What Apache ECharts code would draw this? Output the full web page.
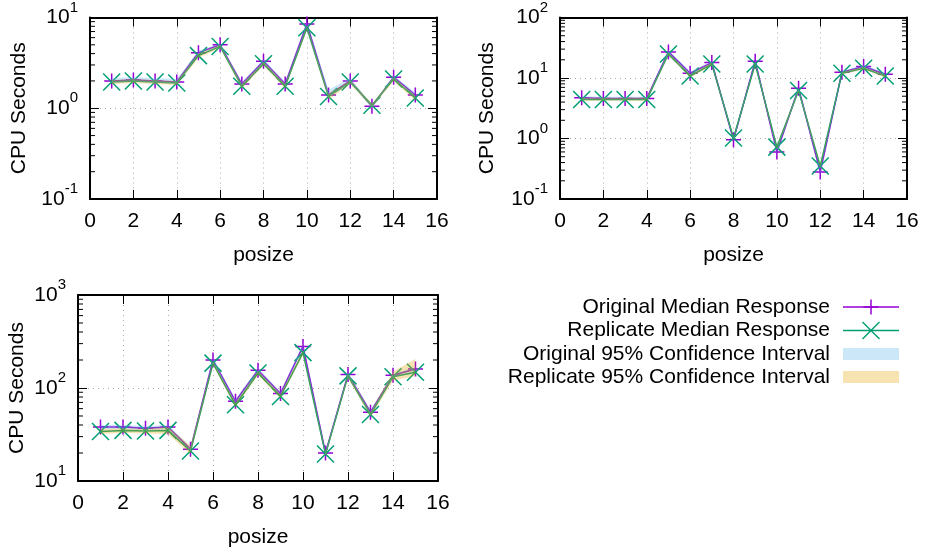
<!DOCTYPE html>
<html>
<head>
<meta charset="utf-8">
<script src="https://cdn.jsdelivr.net/npm/echarts@6/dist/echarts.min.js"></script>
<style>
  html, body { margin: 0; padding: 0; background: #fff; }
  #chart { width: 927px; height: 555px; }
</style>
</head>
<body>
<div id="chart"></div>
<script>
// posize values on the x axis
var posize = [1, 2, 3, 4, 5, 6, 7, 8, 9, 10, 11, 12, 13, 14, 15];
var xTicks = [0, 2, 4, 6, 8, 10, 12, 14, 16];

// panel 1 (top left)
var p1Orig   = [2.0, 2.05, 2.0, 1.95, 4.1, 5.0, 1.85, 3.3, 1.85, 8.5, 1.4, 2.0, 1.05, 2.2, 1.4];
var p1Rep    = [1.95, 2.0, 1.95, 1.9, 3.8, 4.8, 1.75, 3.1, 1.75, 7.7, 1.35, 1.95, 1.08, 2.1, 1.3];
var p1OrigLo = [1.9, 1.95, 1.9, 1.85, 3.9, 4.8, 1.75, 3.1, 1.75, 8.0, 1.3, 1.9, 1.0, 2.1, 1.3];
var p1OrigHi = [2.15, 2.2, 2.15, 2.1, 4.3, 5.2, 1.95, 3.5, 1.95, 9.0, 1.6, 2.15, 1.1, 2.3, 1.5];
var p1RepLo  = [1.85, 1.9, 1.85, 1.8, 3.6, 4.6, 1.65, 2.95, 1.65, 7.3, 1.25, 1.85, 1.02, 2.0, 1.22];
var p1RepHi  = [2.05, 2.1, 2.05, 2.0, 4.0, 5.0, 1.85, 3.25, 1.85, 8.1, 1.45, 2.05, 1.13, 2.2, 1.38];

// panel 2 (top right)
var p2Orig   = [4.7, 4.6, 4.6, 4.6, 27, 12, 18, 0.95, 19, 0.6, 6.8, 0.28, 12.5, 15.5, 11.5];
var p2Rep    = [4.4, 4.4, 4.4, 4.4, 25, 10.8, 17, 1.02, 17, 0.72, 6.2, 0.35, 12, 14.5, 10.8];
var p2OrigLo = [4.4, 4.4, 4.4, 4.4, 25, 11.2, 17, 0.9, 18, 0.55, 6.3, 0.25, 12, 14.5, 10.8];
var p2OrigHi = [5.0, 4.9, 4.9, 4.9, 29, 12.8, 19, 1.0, 20, 0.66, 7.2, 0.31, 13, 16.5, 12.2];
var p2RepLo  = [4.2, 4.2, 4.2, 4.2, 23.5, 10.2, 16, 0.96, 16, 0.66, 5.8, 0.32, 11.4, 13.8, 10.2];
var p2RepHi  = [4.7, 4.7, 4.7, 4.7, 26.5, 11.5, 18, 1.08, 18, 0.78, 6.6, 0.39, 12.6, 15.3, 11.4];

// panel 3 (bottom left)
var p3Orig   = [38, 38, 37, 38, 22, 200, 72, 155, 87, 280, 20, 140, 55, 137, 160];
var p3Rep    = [34, 35, 34.5, 35, 21, 185, 66, 145, 81, 240, 19.5, 135, 52, 132, 148];
var p3OrigLo = [36, 36, 35, 36, 21, 190, 68, 147, 83, 265, 19, 133, 52, 130, 152];
var p3OrigHi = [40, 40, 39, 40, 23.5, 210, 76, 163, 91, 295, 21, 147, 58, 144, 168];
var p3RepLo  = [32, 33, 32.5, 32, 19.5, 175, 62, 137, 77, 225, 18.5, 127, 49, 120, 135];
var p3RepHi  = [36.5, 37, 36.5, 38, 24, 195, 70, 153, 86, 255, 20.5, 143, 55, 150, 205];

var panels = [
  { orig: p1Orig, rep: p1Rep, origLo: p1OrigLo, origHi: p1OrigHi, repLo: p1RepLo, repHi: p1RepHi, min: 0.1, max: 10 },
  { orig: p2Orig, rep: p2Rep, origLo: p2OrigLo, origHi: p2OrigHi, repLo: p2RepLo, repHi: p2RepHi, min: 0.1, max: 100 },
  { orig: p3Orig, rep: p3Rep, origLo: p3OrigLo, origHi: p3OrigHi, repLo: p3RepLo, repHi: p3RepHi, min: 10, max: 1000 }
];

var FONT = '"Liberation Sans", Arial, Helvetica, sans-serif';
var FS = 21;
var C_ORIG = '#9400d3';
var C_REP = '#009e73';
var C_ORIG_CI = 'rgba(86,180,233,0.3)';
var C_REP_CI = 'rgba(230,159,0,0.3)';
var PLUS = 'path://M0,-1L0,1M-1,0L1,0';
var CROSS = 'path://M-1,-1L1,1M-1,1L1,-1';

var grids = [
  { left: 90, top: 14, width: 347, height: 185 },
  { left: 560, top: 14, width: 347, height: 185 },
  { left: 78, top: 295, width: 360, height: 186 }
];
var yNameGap = [60, 62, 50];

function zip(ys) {
  return posize.map(function (x, i) { return [x, ys[i]]; });
}

function logLabel(v) {
  var e = Math.round(Math.log10(v));
  return '{b|10}{s|' + e + '}';
}

function bandSeries(g, lo, hi, color) {
  return {
    type: 'custom',
    xAxisIndex: 2 * g,
    yAxisIndex: 2 * g,
    silent: true,
    z: 5,
    data: posize.map(function (x, i) { return [x, lo[i], hi[i]]; }),
    encode: { x: 0, y: [1, 2] },
    renderItem: function (params, api) {
      if (params.dataIndex !== 0) return null;
      var pts = [];
      for (var i = 0; i < posize.length; i++) pts.push(api.coord([posize[i], lo[i]]));
      for (var j = posize.length - 1; j >= 0; j--) pts.push(api.coord([posize[j], hi[j]]));
      return { type: 'polygon', shape: { points: pts }, style: { fill: color } };
    }
  };
}

var xAxes = [], yAxes = [], series = [];
panels.forEach(function (p, g) {
  var common = { min: xTicks[0], max: xTicks[xTicks.length - 1], interval: 2, gridIndex: g, type: 'value' };
  xAxes.push(Object.assign({}, common, {
    position: 'bottom',
    name: 'posize', nameLocation: 'middle', nameGap: 46,
    nameTextStyle: { fontFamily: FONT, fontSize: FS, color: '#000' },
    axisLine: { show: true, onZero: false, lineStyle: { color: '#000', width: 2 } },
    axisTick: { show: true, inside: true, length: 9, lineStyle: { color: '#000', width: 1 } },
    axisLabel: { show: true, margin: 12, fontFamily: FONT, fontSize: FS, color: '#000' },
    splitLine: { show: true, lineStyle: { color: '#aaa', width: 1, type: [1, 4] } }
  }));
  xAxes.push(Object.assign({}, common, {
    position: 'top',
    axisLine: { show: true, onZero: false, lineStyle: { color: '#000', width: 2 } },
    axisTick: { show: true, inside: true, length: 9, lineStyle: { color: '#000', width: 1 } },
    axisLabel: { show: false },
    splitLine: { show: false }
  }));
  var yCommon = { type: 'log', logBase: 10, min: p.min, max: p.max, gridIndex: g };
  yAxes.push(Object.assign({}, yCommon, {
    position: 'left',
    name: 'CPU Seconds', nameLocation: 'middle', nameGap: yNameGap[g],
    nameTextStyle: { fontFamily: FONT, fontSize: FS, color: '#000' },
    axisLine: { show: true, onZero: false, lineStyle: { color: '#000', width: 2 } },
    axisTick: { show: true, inside: true, length: 9, lineStyle: { color: '#000', width: 1 } },
    axisLabel: {
      show: true, margin: 12, formatter: logLabel, padding: [0, 0, 7, 0],
      rich: {
        b: { fontFamily: FONT, fontSize: FS, color: '#000', padding: [7, 0, 0, 0] },
        s: { fontFamily: FONT, fontSize: 15, color: '#000', verticalAlign: 'top' }
      }
    },
    splitLine: { show: true, lineStyle: { color: '#aaa', width: 1, type: [1, 4] } }
  }));
  yAxes.push(Object.assign({}, yCommon, {
    position: 'right',
    axisLine: { show: true, onZero: false, lineStyle: { color: '#000', width: 2 } },
    axisTick: { show: true, inside: true, length: 9, lineStyle: { color: '#000', width: 1 } },
    axisLabel: { show: false },
    splitLine: { show: false }
  }));

  series.push({
    name: 'Original Median Response', type: 'line',
    xAxisIndex: 2 * g, yAxisIndex: 2 * g, data: zip(p.orig),
    symbol: PLUS, symbolSize: 15, showAllSymbol: true,
    lineStyle: { color: C_ORIG, width: 1.5 },
    itemStyle: { color: 'rgba(0,0,0,0)', borderColor: C_ORIG, borderWidth: 1.5 },
    z: 3, animation: false
  });
  series.push({
    name: 'Replicate Median Response', type: 'line',
    xAxisIndex: 2 * g, yAxisIndex: 2 * g, data: zip(p.rep),
    symbol: CROSS, symbolSize: 17, showAllSymbol: true,
    lineStyle: { color: C_REP, width: 1.5 },
    itemStyle: { color: 'rgba(0,0,0,0)', borderColor: C_REP, borderWidth: 1.5 },
    z: 4, animation: false
  });
  series.push(bandSeries(g, p.origLo, p.origHi, C_ORIG_CI));
  series.push(bandSeries(g, p.repLo, p.repHi, C_REP_CI));
});

var chart = echarts.init(document.getElementById('chart'));
var option = {
  backgroundColor: '#fff',
  animation: false,
  grid: grids,
  xAxis: xAxes,
  yAxis: yAxes,
  series: series
};
chart.setOption(option);

// log minor ticks (2..9 per decade) on left and right edges
var graphics = [];
panels.forEach(function (p, g) {
  var left = chart.convertToPixel({ gridIndex: g }, [0, p.min])[0];
  var right = chart.convertToPixel({ gridIndex: g }, [16, p.min])[0];
  for (var d = Math.round(Math.log10(p.min)); d < Math.round(Math.log10(p.max)); d++) {
    for (var m = 2; m <= 9; m++) {
      var y = chart.convertToPixel({ gridIndex: g }, [0, m * Math.pow(10, d)])[1];
      graphics.push({ type: 'line', silent: true, shape: { x1: left, y1: y, x2: left + 5, y2: y }, style: { stroke: '#000', lineWidth: 1 } });
      graphics.push({ type: 'line', silent: true, shape: { x1: right - 5, y1: y, x2: right, y2: y }, style: { stroke: '#000', lineWidth: 1 } });
    }
  }
});

// key, drawn gnuplot style (text right aligned, sample on the right)
var keyRows = [
  { text: 'Original Median Response', y: 307 },
  { text: 'Replicate Median Response', y: 330.5 },
  { text: 'Original 95% Confidence Interval', y: 354 },
  { text: 'Replicate 95% Confidence Interval', y: 377 }
];
keyRows.forEach(function (r) {
  graphics.push({ type: 'text', silent: true, style: { text: r.text, x: 830, y: r.y, align: 'right', verticalAlign: 'middle', font: FS + 'px ' + FONT, fill: '#000' } });
});
var kx1 = 843, kx2 = 899, kc = 871;
graphics.push({ type: 'line', shape: { x1: kx1, y1: 307, x2: kx2, y2: 307 }, style: { stroke: C_ORIG, lineWidth: 1.5 } });
graphics.push({ type: 'line', shape: { x1: kc, y1: 299.5, x2: kc, y2: 314.5 }, style: { stroke: C_ORIG, lineWidth: 1.5 } });
graphics.push({ type: 'line', shape: { x1: kc - 7.5, y1: 307, x2: kc + 7.5, y2: 307 }, style: { stroke: C_ORIG, lineWidth: 1.5 } });
graphics.push({ type: 'line', shape: { x1: kx1, y1: 330.5, x2: kx2, y2: 330.5 }, style: { stroke: C_REP, lineWidth: 1.5 } });
graphics.push({ type: 'line', shape: { x1: kc - 8.5, y1: 322, x2: kc + 8.5, y2: 339 }, style: { stroke: C_REP, lineWidth: 1.5 } });
graphics.push({ type: 'line', shape: { x1: kc - 8.5, y1: 339, x2: kc + 8.5, y2: 322 }, style: { stroke: C_REP, lineWidth: 1.5 } });
graphics.push({ type: 'rect', shape: { x: kx1, y: 348, width: kx2 - kx1, height: 12 }, style: { fill: C_ORIG_CI } });
graphics.push({ type: 'rect', shape: { x: kx1, y: 371, width: kx2 - kx1, height: 12 }, style: { fill: C_REP_CI } });

chart.setOption({ graphic: graphics });

window.addEventListener('resize', function () {
  chart.resize();
});
</script>
</body>
</html>
